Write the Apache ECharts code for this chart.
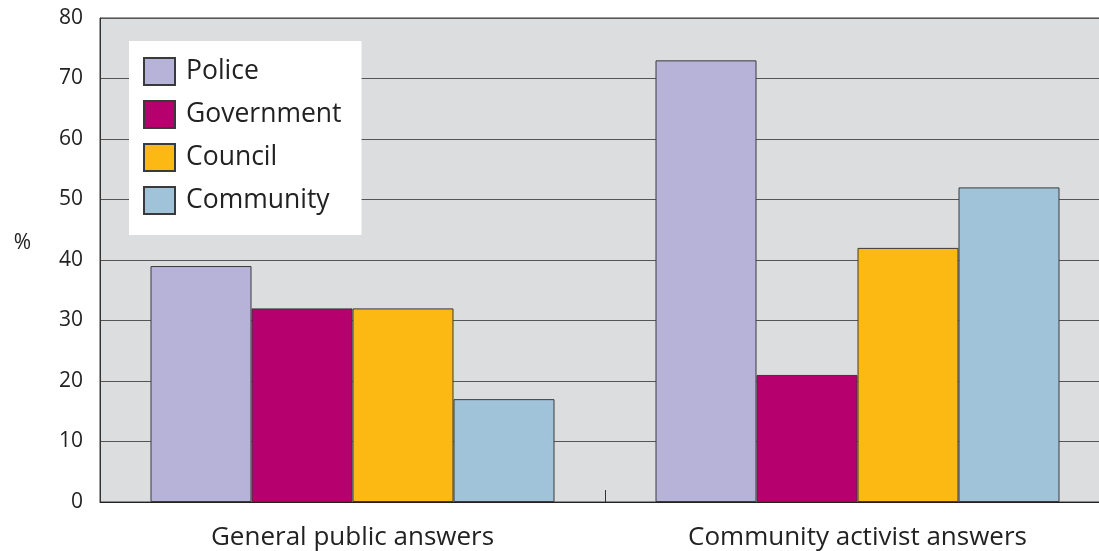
<!DOCTYPE html>
<html>
<head>
<meta charset="utf-8">
<script src="https://cdn.jsdelivr.net/npm/echarts@6/dist/echarts.min.js"></script>
<style>
  html, body { margin: 0; padding: 0; background: #fff; }
  #chart { width: 1099px; height: 551px; }
</style>
</head>
<body>
<div id="chart"></div>
<script>
// Who respondents think is responsible, by group of respondents (%)
const categories = ['General public answers', 'Community activist answers'];
const seriesNames = ['Police', 'Government', 'Council', 'Community'];
const police = [39, 73];
const government = [32, 21];
const council = [32, 42];
const community = [17, 52];
const yTicks = [0, 10, 20, 30, 40, 50, 60, 70, 80];

const colors = ['#b7b2d8', '#b5006e', '#fdb913', '#a1c3da'];
const values = [police, government, council, community];
const fontFamily = '"Open Sans", "Noto Sans", sans-serif';

const chart = echarts.init(document.getElementById('chart'));
chart.setOption({
  animation: false,
  textStyle: { fontFamily: fontFamily },
  grid: {
    left: 100, right: -11, top: 18, bottom: 49,
    outerBoundsMode: 'none',
    containLabel: false,
    show: true,
    backgroundColor: '#dcdddf',
    borderColor: '#3a3a3a',
    borderWidth: 1
  },
  legend: {
    orient: 'vertical',
    left: 129, top: 41,
    backgroundColor: '#ffffff',
    padding: [16, 20, 20, 14],
    itemWidth: 31, itemHeight: 27, itemGap: 14,
    icon: 'rect',
    textStyle: { fontSize: 26.5, lineHeight: 27, color: '#222', fontFamily: fontFamily, padding: [0, 0, 0, 6] },
    data: seriesNames
  },
  xAxis: {
    type: 'category',
    data: categories,
    axisLine: { lineStyle: { color: '#222', width: 1 } },
    axisTick: { show: true, inside: true, length: 12, lineStyle: { color: '#333' } },
    axisLabel: { fontSize: 26, color: '#222', margin: 23 }
  },
  yAxis: {
    type: 'value',
    min: yTicks[0], max: yTicks[yTicks.length - 1], interval: 10,
    name: '%',
    nameLocation: 'middle',
    nameRotate: 0,
    nameGap: 69,
    nameTextStyle: { fontSize: 21, color: '#222', verticalAlign: 'bottom', padding: [0, 0, 6, 0] },
    axisLine: { show: true, lineStyle: { color: '#333' } },
    axisTick: { show: false },
    axisLabel: { fontSize: 21, color: '#222', margin: 17 },
    splitLine: { lineStyle: { color: '#555', width: 1 } }
  },
  series: seriesNames.map((name, i) => ({
    name: name,
    type: 'bar',
    data: values[i],
    barGap: '0%',
    barCategoryGap: '20%',
    itemStyle: { color: colors[i], borderColor: '#3a3a3a', borderWidth: 1 }
  }))
});
</script>
</body>
</html>
